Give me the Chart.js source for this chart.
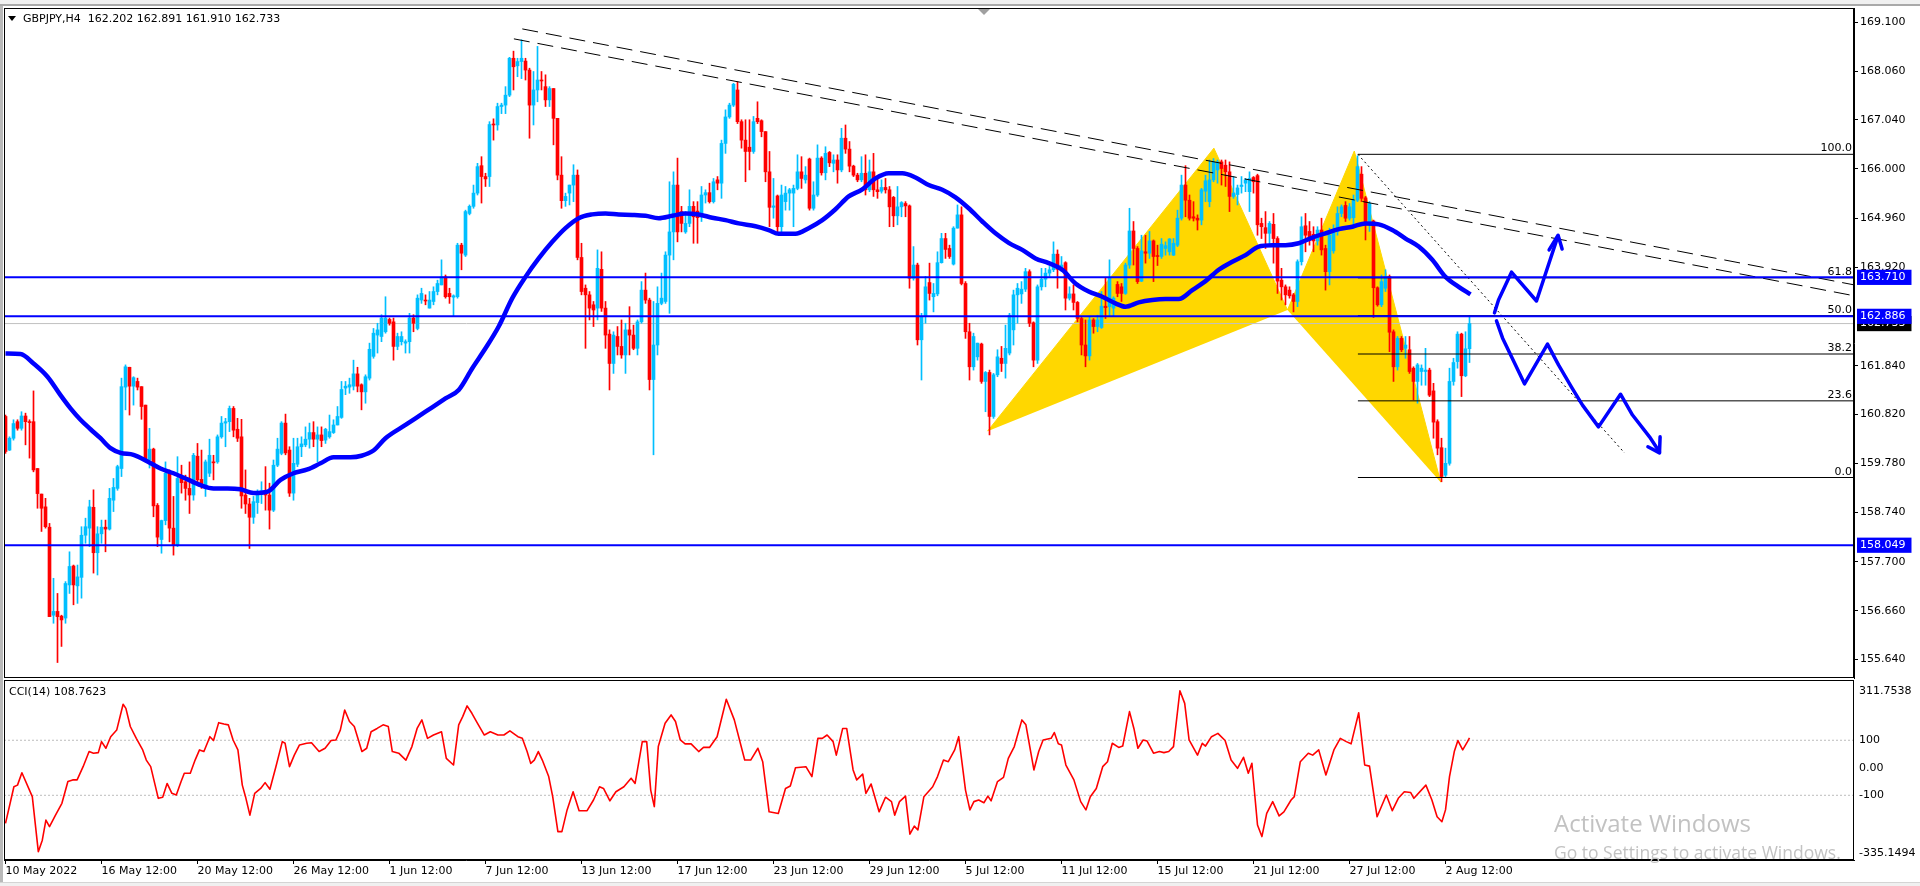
<!DOCTYPE html>
<html>
<head>
<meta charset="utf-8">
<title>GBPJPY,H4</title>
<script src="https://cdn.jsdelivr.net/npm/chart.js@4.4.1/dist/chart.umd.min.js"></script>
<style>
  html, body { margin: 0; padding: 0; background: #fff; }
  body { width: 1920px; height: 886px; position: relative; overflow: hidden; font-family: 'DejaVu Sans', sans-serif; }
  canvas { position: absolute; left: 0; }
  #priceChart { top: 0; }
  #cciChart { top: 678px; }
  #topbar { position: absolute; left: 0; top: 0; width: 1920px; height: 4px; background: #f0f0f0; border-bottom: 2px solid #a9a9a9; }
  #leftbar { position: absolute; left: 0; top: 6px; width: 3px; height: 876px; background: #b9b9b9; }
  #bottombar { position: absolute; left: 0; top: 882px; width: 1920px; height: 4px; background: #f0f0f0; border-top: 1px solid #d4d4d4; }
  #shift { position: absolute; left: 978px; top: 9px; width: 0; height: 0; border-left: 6px solid transparent; border-right: 6px solid transparent; border-top: 6px solid #a0a0a0; }
  #tri { position: absolute; left: 8px; top: 16px; width: 0; height: 0; border-left: 4px solid transparent; border-right: 4px solid transparent; border-top: 5px solid #000; }
  .label { position: absolute; font-size: 11px; line-height: 13px; color: #000; white-space: pre; }
  .wm { position: absolute; left: 1554px; font-family: 'Open Sans', sans-serif; color: #c2c2c2; white-space: pre; }
</style>
</head>
<body>
<div id="topbar"></div>
<canvas id="priceChart" width="1920" height="680"></canvas>
<canvas id="cciChart" width="1920" height="208"></canvas>
<div id="leftbar"></div>
<div id="bottombar"></div>
<div id="shift"></div>
<div id="tri"></div>
<div class="label" style="left:23px; top:12px;">GBPJPY,H4  162.202 162.891 161.910 162.733</div>
<div class="label" style="left:9px; top:685px;">CCI(14) 108.7623</div>
<div class="wm" style="top:806px; font-size:24px;">Activate Windows</div>
<div class="wm" style="top:840px; font-size:17.5px;">Go to Settings to activate Windows.</div>
<script>
// GBPJPY H4, 10 May 2022 12:00 -> 3 Aug 2022 12:00, one entry per bar (bar 0 = 10 May 12:00)
const xTickBars = [0, 24, 48, 72, 96, 120, 144, 168, 192, 216, 240, 264, 288, 312, 336, 360];
const xTickLabels = ['10 May 2022', '16 May 12:00', '20 May 12:00', '26 May 12:00', '1 Jun 12:00', '7 Jun 12:00',
  '13 Jun 12:00', '17 Jun 12:00', '23 Jun 12:00', '29 Jun 12:00', '5 Jul 12:00', '11 Jul 12:00',
  '15 Jul 12:00', '21 Jul 12:00', '27 Jul 12:00', '2 Aug 12:00'];

const priceTicks = [169.100, 168.060, 167.040, 166.000, 164.960, 163.920, 161.840, 160.820, 159.780, 158.740, 157.700, 156.660, 155.640];
const levelLines = [163.710, 162.886, 158.049];
const lastPrice = 162.733;

const opens = [
  160.77,160.06,160.31,160.66,160.52,160.78,160.66,160.66,159.67,159.13,
  158.86,158.43,156.57,156.65,156.55,156.51,157.21,157.61,157.19,157.37,
  158.26,158.41,158.85,157.89,158.29,158.43,158.39,159.00,159.25,159.67,
  161.39,161.81,161.41,161.51,161.40,161.01,159.85,160.08,158.89,158.17,
  158.57,159.57,158.41,158.05,159.50,159.39,159.25,159.11,159.93,159.44,
  159.25,159.57,159.81,159.81,160.34,160.63,160.66,160.94,160.50,160.34,
  159.11,158.92,158.64,158.95,159.15,159.20,159.11,158.79,159.74,159.99,
  160.63,160.06,159.15,159.76,160.13,160.17,160.29,160.43,160.29,160.38,
  160.27,160.34,160.43,160.59,160.75,161.37,161.39,161.41,161.67,161.44,
  161.29,161.58,162.04,162.49,162.46,162.56,162.82,162.77,162.25,162.35,
  162.32,162.35,162.85,162.63,163.23,163.23,163.06,163.20,163.41,163.55,
  163.72,163.37,163.29,163.30,164.39,164.18,165.06,165.21,165.49,166.07,
  165.84,165.84,166.94,166.93,167.32,167.35,167.56,168.34,168.18,168.27,
  168.28,168.09,167.35,167.67,167.88,167.74,167.46,167.70,167.07,165.87,
  165.33,165.49,165.66,165.87,164.13,163.48,163.34,163.13,163.06,163.88,
  163.06,162.51,161.89,162.46,162.25,162.07,162.60,162.49,162.21,162.77,
  163.44,163.23,161.55,162.28,163.16,163.20,164.18,164.67,165.66,165.10,
  164.67,164.85,165.21,165.11,164.99,165.45,165.50,165.31,165.77,165.70,
  166.54,167.10,167.35,167.67,167.00,166.61,166.46,166.37,167.07,167.02,
  166.79,165.94,165.19,165.43,164.78,165.31,165.49,165.49,165.59,165.94,
  165.77,166.21,165.17,165.45,166.23,165.92,166.35,166.12,166.19,165.98,
  166.65,166.42,166.06,165.87,165.77,165.91,165.56,165.94,165.56,165.53,
  165.61,165.56,165.40,165.01,165.20,165.27,165.22,163.69,163.97,162.39,
  162.88,163.60,163.30,163.36,164.02,164.53,164.32,163.99,164.75,165.03,
  163.58,162.56,161.82,162.03,162.30,161.51,161.70,160.77,161.65,162.00,
  161.89,162.11,162.60,163.34,163.36,163.46,163.83,162.75,161.96,163.51,
  163.67,163.80,163.87,164.20,163.87,164.02,163.27,163.36,163.18,162.84,
  162.28,162.05,162.81,162.67,162.65,163.10,163.09,163.06,163.56,163.51,
  163.37,163.97,164.69,164.32,163.63,164.25,164.22,164.48,164.17,164.15,
  164.32,164.25,164.18,164.39,164.96,165.66,165.34,164.99,164.96,164.92,
  165.53,165.31,165.77,165.98,166.15,166.08,165.94,165.42,165.46,165.63,
  165.70,165.52,165.82,165.86,164.85,164.76,164.64,164.83,164.53,163.65,
  163.51,163.44,163.34,163.20,164.04,164.80,164.68,164.62,164.48,164.71,
  164.32,163.83,164.27,164.68,165.06,165.23,164.96,164.97,165.34,165.89,
  165.39,164.85,164.90,163.49,163.13,163.48,163.73,162.56,161.82,162.42,
  162.21,162.18,161.79,161.51,161.72,161.72,161.75,161.31,160.66,160.11,
  159.53,159.78,161.51,161.93,162.51,161.63,162.202
];
const highs = [
  160.80,160.34,160.70,160.70,160.87,160.84,160.70,161.31,159.67,159.13,
  159.04,158.51,157.35,157.03,156.57,157.28,157.91,157.63,157.63,158.44,
  158.62,159.00,159.22,158.44,158.58,158.58,159.25,159.46,159.74,161.58,
  161.86,161.81,161.61,161.58,161.40,161.01,160.52,160.10,158.93,158.58,
  159.81,159.64,159.08,159.92,159.74,159.53,159.81,159.99,160.20,160.06,
  159.85,160.29,159.95,160.38,160.77,160.73,160.99,160.98,160.73,160.71,
  159.64,159.04,159.08,159.22,159.39,159.71,159.36,159.85,160.31,160.66,
  160.82,160.13,160.31,160.31,160.34,160.55,160.63,160.66,160.55,160.55,
  160.52,160.80,160.70,160.98,161.51,161.51,161.58,161.96,161.81,161.46,
  161.65,162.32,162.63,162.74,162.92,163.30,162.85,162.85,162.53,162.56,
  162.39,162.95,162.92,163.34,163.48,163.34,163.41,163.51,163.65,164.08,
  163.76,163.48,163.34,164.43,164.43,165.13,165.24,165.66,166.12,166.26,
  165.91,167.00,167.06,167.39,167.39,167.74,168.36,168.49,168.34,168.73,
  168.34,168.13,168.06,168.59,168.06,167.99,167.74,167.70,167.07,166.26,
  165.49,165.66,166.09,165.98,164.43,163.55,163.41,163.20,164.29,164.25,
  163.20,162.60,162.56,162.67,162.81,162.74,163.09,162.70,162.81,163.62,
  163.80,163.27,163.20,163.51,163.80,164.25,165.73,165.94,166.23,165.21,
  165.10,165.56,165.31,165.31,165.63,165.56,165.70,165.80,165.84,166.61,
  167.25,167.39,167.81,167.84,167.04,167.04,167.04,167.11,167.42,167.04,
  166.79,166.37,165.80,165.45,165.66,165.63,165.59,165.66,166.30,166.26,
  166.05,166.23,165.73,166.51,166.26,166.47,166.37,166.30,166.30,166.86,
  166.93,166.58,166.08,165.91,166.26,166.30,166.19,166.33,165.84,165.77,
  165.80,165.63,165.42,165.63,165.31,165.31,165.24,164.36,164.01,162.95,
  163.73,164.01,163.58,164.25,164.64,164.64,164.39,164.78,165.24,165.20,
  163.62,162.74,162.53,162.32,162.32,161.72,161.75,161.68,162.18,162.25,
  162.70,162.95,163.44,163.58,163.62,163.90,163.87,162.77,163.55,163.90,
  163.90,163.94,164.46,164.29,164.15,164.04,163.51,163.55,163.20,162.88,
  162.81,162.88,162.84,162.91,163.41,163.69,164.08,163.30,163.62,163.58,
  164.01,165.17,164.89,164.36,164.60,164.60,164.68,164.50,164.39,164.53,
  164.46,164.53,164.53,165.13,165.87,166.07,165.45,165.31,165.03,165.59,
  165.87,166.19,166.22,166.19,166.19,166.19,166.15,165.84,165.66,165.84,
  165.80,165.94,165.84,165.89,164.96,165.10,164.89,165.06,164.57,163.90,
  163.55,163.51,163.37,164.08,164.99,165.06,164.89,164.78,164.78,164.96,
  164.39,164.75,164.82,165.20,165.24,165.31,165.27,165.45,166.28,166.05,
  165.42,165.31,164.92,163.51,163.76,163.87,163.76,162.60,162.46,162.46,
  162.46,162.46,161.82,161.89,161.86,162.21,161.79,161.47,160.70,160.31,
  160.10,161.79,162.00,162.56,162.53,162.56,162.891
];
const lows = [
  159.99,160.05,160.27,160.48,160.48,160.17,159.89,159.60,158.83,158.34,
  158.41,156.54,156.40,155.57,155.91,156.40,157.03,156.79,156.82,156.93,
  158.09,158.02,157.46,157.42,158.09,157.91,158.37,158.76,159.21,159.50,
  160.91,160.80,161.01,161.33,160.71,159.81,159.68,158.65,158.02,157.88,
  158.48,158.12,157.84,158.02,159.15,159.00,158.72,159.00,159.32,159.25,
  159.08,159.50,159.43,159.78,160.31,160.13,160.45,160.34,160.24,158.83,
  158.72,157.98,158.51,158.72,158.93,158.79,158.39,158.76,159.71,159.96,
  159.96,159.08,159.00,159.71,159.92,160.13,160.10,160.13,159.81,160.13,
  160.20,160.31,160.41,160.59,160.73,161.23,161.26,161.33,161.29,160.91,
  161.05,161.54,162.00,162.11,162.35,162.53,162.70,161.96,162.18,162.28,
  162.11,162.11,162.56,162.60,163.16,163.13,163.06,163.13,163.34,163.55,
  163.27,163.16,162.88,163.27,163.87,164.15,165.03,165.17,165.45,165.28,
  165.63,165.63,166.61,166.82,167.17,167.17,167.53,167.67,167.95,167.91,
  167.88,166.65,166.93,167.42,167.67,167.32,167.32,166.51,165.77,165.17,
  165.21,165.24,165.31,164.08,163.34,162.21,162.81,162.67,162.81,162.99,
  162.21,161.33,161.68,162.07,162.00,161.68,162.07,162.18,162.07,162.74,
  163.16,161.33,159.96,162.07,163.13,163.16,162.95,164.08,164.46,164.67,
  164.64,164.78,164.43,164.43,164.89,165.28,165.28,165.28,165.56,165.38,
  166.33,167.07,167.32,166.96,166.44,165.73,165.98,166.33,166.96,166.68,
  165.73,164.78,164.96,164.65,164.64,165.13,165.13,164.78,165.56,165.59,
  165.70,165.13,165.13,165.42,165.87,165.77,166.05,165.94,165.70,165.94,
  166.33,165.94,165.84,165.73,165.73,165.45,165.52,165.42,165.38,165.49,
  165.49,164.78,164.78,164.82,164.99,164.99,163.48,163.65,162.28,161.54,
  162.74,163.23,162.98,163.32,164.01,164.11,164.11,163.97,164.75,163.55,
  162.42,161.54,161.75,161.96,161.47,160.87,160.38,160.73,161.61,161.72,
  161.58,162.07,162.28,162.74,163.16,163.41,162.67,161.82,161.89,163.44,
  163.51,163.73,163.83,163.48,163.83,163.02,163.23,163.02,162.77,162.07,
  161.82,161.96,162.53,162.56,162.63,162.84,162.88,162.88,163.30,163.20,
  163.35,163.90,163.97,163.58,163.62,164.01,164.11,163.62,163.96,164.11,
  164.18,164.18,164.17,164.36,164.92,164.99,164.92,164.90,164.71,164.82,
  165.31,165.20,165.73,165.70,165.66,165.63,165.10,165.38,165.24,165.49,
  165.52,165.10,165.49,164.60,164.53,164.32,164.39,164.01,163.37,163.23,
  163.13,163.27,162.98,163.09,163.97,164.25,164.39,164.25,164.39,164.18,
  163.44,163.55,164.22,164.60,164.99,164.89,164.92,164.75,165.31,165.31,
  164.50,164.68,162.86,163.10,163.09,163.41,162.14,161.51,161.75,162.14,
  162.00,161.68,161.12,161.05,161.43,161.43,161.19,160.31,159.96,159.39,
  159.50,159.74,161.43,161.79,161.19,161.61,161.910
];
const closes = [
  160.03,160.31,160.62,160.52,160.78,160.66,160.64,159.64,159.14,158.83,
  158.44,156.54,156.65,156.54,156.47,157.24,157.60,157.21,157.38,158.26,
  158.44,158.86,157.89,158.29,158.43,158.39,159.04,159.27,159.71,161.40,
  161.82,161.41,161.59,161.39,160.98,159.85,160.08,158.88,158.22,158.57,
  159.57,158.41,158.05,159.46,159.37,159.25,159.11,159.95,159.43,159.29,
  159.81,159.95,159.79,160.34,160.63,160.66,160.94,160.48,160.31,159.09,
  158.92,158.64,158.97,159.15,159.20,159.11,158.79,159.74,160.08,160.63,
  160.00,159.15,159.78,160.13,160.19,160.29,160.43,160.29,160.38,160.26,
  160.50,160.45,160.59,160.77,161.34,161.41,161.44,161.67,161.41,161.29,
  161.61,162.19,162.53,162.60,162.85,162.85,162.74,162.25,162.46,162.46,
  162.35,162.85,162.74,163.27,163.37,163.21,163.23,163.41,163.58,163.72,
  163.30,163.30,163.32,164.39,164.22,165.10,165.21,165.49,166.05,165.84,
  165.79,166.94,166.93,167.32,167.35,167.56,168.34,168.16,168.27,168.34,
  168.09,167.35,167.67,167.88,167.86,167.46,167.70,167.07,165.87,165.33,
  165.42,165.66,165.87,164.13,163.41,163.34,163.06,163.02,163.90,163.06,
  162.49,161.89,162.49,162.25,162.07,162.60,162.49,162.21,162.77,163.44,
  163.23,161.55,162.28,163.16,163.27,164.18,164.67,165.66,164.67,164.85,
  164.85,165.21,164.99,164.97,165.45,165.50,165.31,165.73,165.70,166.54,
  167.10,167.35,167.79,167.00,166.61,166.37,166.37,167.00,167.00,166.79,
  165.94,165.19,165.22,164.78,165.45,165.49,165.56,165.59,165.94,165.80,
  165.87,165.17,165.45,166.23,165.92,166.33,166.13,166.19,165.98,166.65,
  166.42,166.06,165.87,165.77,165.91,165.56,165.94,165.56,165.52,165.61,
  165.56,165.20,165.01,165.20,165.29,165.22,163.69,163.97,162.39,162.88,
  163.51,163.37,163.37,164.02,164.53,164.30,164.15,164.75,165.03,163.58,
  162.56,161.82,162.46,162.32,161.51,161.70,160.77,161.65,162.03,161.89,
  162.21,162.91,163.34,163.48,163.46,163.83,162.74,161.96,163.51,163.67,
  163.80,163.87,164.20,163.88,163.97,163.27,163.36,163.18,162.84,162.28,
  162.05,162.81,162.67,162.81,163.10,163.07,163.69,163.27,163.37,163.37,
  163.97,164.69,164.32,163.62,164.27,164.22,164.48,164.15,164.15,164.41,
  164.38,164.52,164.43,164.96,165.66,165.34,164.96,164.96,164.92,165.56,
  165.75,165.77,166.15,166.15,166.01,165.94,165.42,165.49,165.60,165.66,
  165.77,165.80,165.73,164.82,164.78,164.64,164.85,164.53,163.63,163.51,
  163.34,163.32,163.20,164.04,164.78,164.60,164.53,164.48,164.71,164.29,
  163.83,164.60,164.68,165.06,165.20,164.96,165.20,165.34,166.05,165.38,
  164.85,165.27,163.49,163.13,163.62,163.73,162.55,161.82,162.42,162.18,
  162.28,161.72,161.51,161.86,161.79,161.75,161.22,160.65,160.10,159.50,
  159.78,161.51,161.91,162.51,161.63,162.20,162.733
];

// moving average, read every few bars: [bar, price]
const maPoints = [
  [0,162.10],[3.75,162.09],[7,161.89],[10.5,161.61],[13.75,161.22],[16.25,160.94],[18.75,160.70],[21.25,160.50],
  [23.75,160.31],[26.25,160.10],[28.75,160.00],[32,159.96],[35.5,159.82],[38.75,159.67],[42,159.57],[45.5,159.44],
  [48.75,159.32],[52,159.25],[55.5,159.25],[58.75,159.23],[62,159.15],[65.5,159.18],[68.75,159.43],[72,159.57],
  [75.5,159.65],[78.75,159.78],[82,159.91],[86.25,159.91],[89,159.94],[92,160.05],[95,160.31],[100,160.59],
  [105,160.87],[110,161.15],[113.3,161.33],[116.7,161.79],[120,162.21],[123.3,162.67],[126.7,163.27],[130,163.72],
  [133.3,164.11],[136.7,164.46],[140,164.75],[143.3,164.96],[146.7,165.04],[150,165.06],[153.3,165.04],[156.7,165.03],
  [160,165.01],[163.3,164.96],[166.7,165.01],[170,165.06],[173.3,165.04],[176.7,164.97],[180,164.92],[183.3,164.85],
  [187.5,164.79],[190.8,164.71],[193.3,164.63],[197.5,164.63],[200.8,164.75],[204.2,164.92],[207.5,165.15],[210.8,165.42],
  [214.2,165.57],[217.5,165.80],[220.8,165.91],[224.2,165.91],[227.5,165.82],[230.8,165.66],[234.2,165.56],[237.5,165.40],
  [240.8,165.17],[244.2,164.89],[247.5,164.64],[250.8,164.44],[254.2,164.29],[257.5,164.11],[260.8,164.01],[264.2,163.87],
  [267.5,163.58],[270.8,163.41],[274.2,163.30],[277.5,163.16],[280,163.09],[283.3,163.18],[286.7,163.23],[290,163.25],
  [293.3,163.25],[296.7,163.44],[300,163.63],[303.3,163.87],[306.7,164.04],[310,164.18],[313.3,164.36],[316.7,164.39],
  [320,164.39],[323.3,164.43],[326.7,164.55],[330,164.64],[333.3,164.73],[336.7,164.78],[340,164.85],[343.3,164.83],
  [346.7,164.71],[350,164.53],[353.3,164.36],[356.7,164.08],[360,163.72],[363.3,163.51],[366.25,163.35]
];

// CCI(14) turning points: [bar, value]
const cciPoints = [
  [0,-202],[2.1,-69],[3,-63],[4.1,-18],[6.7,-105],[8.2,-305],[9.2,-263],[10.1,-190],[11,-214],[12.5,-172],
  [14.1,-129],[15.6,-50],[16.8,-44],[17.9,-44],[19.4,4],[20.9,59],[22,53],[23.2,55],[24,95],[25.1,71],
  [26.3,113],[27.8,137],[29.4,231],[30.1,216],[31.2,150],[32.7,107],[34.3,65],[35.2,28],[36.3,4],[38.2,-111],
  [39.3,-107],[40.4,-57],[41.6,-93],[42.7,-99],[43.9,-50],[44.7,-20],[46.2,-20],[47.4,28],[48.5,65],[49.6,59],
  [51.1,113],[52,99],[53.3,164],[54.6,159],[55.7,156],[56.9,101],[58.1,65],[59.2,-63],[60,-105],[61.1,-172],
  [62.3,-93],[63.8,-75],[64.9,-54],[66.1,-78],[67.6,4],[69.2,95],[69.9,89],[71,4],[72.2,46],[73.5,83],
  [75.3,89],[76.5,91],[78.4,59],[79.9,71],[81.4,99],[82.6,101],[83.7,137],[84.8,210],[86,168],[87.2,150],
  [89.1,59],[90.3,71],[91.4,131],[92.9,143],[94.4,156],[95.7,150],[96.7,59],[98.3,53],[100.1,28],[101.6,77],
  [102.9,143],[104.1,174],[105.5,107],[107,119],[109,131],[110.2,34],[112,10],[113.3,156],[114.3,186],[115.4,225],
  [116.6,198],[117.9,164],[119.7,119],[121.2,131],[123.1,119],[124.6,119],[126.1,134],[128.1,113],[129.2,107],[130.4,59],
  [131.3,16],[132.2,28],[133.2,59],[134.2,28],[135.8,-32],[136.8,-105],[138.1,-232],[139.1,-232],[140.4,-153],[141.9,-87],
  [143.4,-156],[145.4,-156],[147,-117],[148.5,-69],[149.5,-75],[151.1,-120],[152.6,-87],[154.6,-69],[156.4,-38],[157.4,-57],
  [159.2,95],[160.3,95],[161.3,-81],[162.2,-141],[163.2,77],[164.9,162],[166.4,192],[167.5,168],[168.7,101],[169.9,87],
  [171.4,87],[173.3,59],[174.5,74],[176,74],[177.9,113],[180.2,249],[182.2,174],[184.8,28],[186.3,28],[188.1,71],
  [189.3,22],[190.9,-160],[193.2,-166],[195,-75],[196.2,-66],[197.5,0],[200.1,4],[201.6,-32],[203.1,107],[204.2,107],
  [205.4,119],[206.9,95],[207.7,46],[209.3,143],[210.3,143],[211.9,-8],[212.8,-44],[214.3,-23],[215.1,-93],[216.4,-59],
  [218.4,-160],[220,-107],[221.5,-123],[222.3,-172],[223.5,-123],[225,-103],[226.1,-241],[227.2,-212],[228.1,-226],[229.6,-105],
  [231.8,-69],[233,-32],[234.5,28],[235.7,22],[237.3,65],[238.3,113],[240,-81],[241.1,-153],[242.1,-123],[243.3,-117],
  [244.6,-127],[245.6,-103],[246.4,-120],[248,-50],[249.5,-35],[250.7,34],[252.2,77],[254.1,174],[255.1,156],[257.1,-8],
  [258.3,59],[259.4,101],[261.4,107],[262.2,128],[263.2,87],[264,83],[265.1,10],[267.1,-44],[268.8,-123],[270.1,-153],
  [271.2,-105],[272.7,-75],[274.3,4],[275.5,22],[276.7,89],[278.3,74],[279.3,79],[281,204],[282.1,143],[283.1,71],
  [284.4,101],[285.4,97],[287,53],[288.5,59],[289.6,55],[290.8,59],[292,77],[293.6,280],[294.8,234],[295.9,101],
  [298,46],[299.2,89],[300,79],[301.5,113],[303.1,125],[304.9,99],[306.4,28],[308,-2],[309.5,38],[310.7,-20],
  [311.6,16],[313,-208],[314.1,-250],[315.3,-166],[316.8,-123],[318.4,-175],[319.6,-160],[321.4,-117],[322.2,-105],[323.7,22],
  [325.7,53],[326.8,46],[328.3,65],[330.1,-26],[332.1,65],[333.7,107],[335.2,95],[336.4,87],[338.3,200],[339.8,10],
  [341,6],[342.9,-178],[345.2,-99],[346.7,-156],[348.2,-111],[349.7,-87],[351.3,-90],[352.1,-111],[355.1,-63],[356.6,-117],
  [357.9,-178],[359.1,-196],[360,-153],[361,-32],[362.2,59],[363.1,99],[364.3,65],[365.5,95],[366,108.76]
];
const cciTickValues = [311.7538, 100, 0, -100, -335.1494];
const cciTickLabels = ['311.7538', '100', '0.00', '-100', '-335.1494'];
const cciLevels = [100, -100];

// drawn objects, in [bar, price]
const trendUpper = [[129.2, 168.96], [462.2, 163.55]];
const trendLower = [[127.1, 168.75], [462.2, 163.32]];
const patternXAB = [[245.5, 160.46], [302.1, 166.44], [320.5, 163.02]];
const patternBCD = [[320.5, 163.02], [337.2, 166.38], [358.8, 159.38]];
const fibStartBar = 338.1;
const fibPrices = [159.48, 161.10, 162.09, 162.90, 163.70, 166.31];
const fibLabels = ['0.0', '23.6', '38.2', '50.0', '61.8', '100.0'];
const fibDiagonal = [[338.1, 166.31], [404.75, 160.0]];
const arrowUp = [[372.25, 162.96], [373.25, 163.23], [376.5, 163.82], [382.75, 163.21], [388.1, 164.58]];
const arrowUpHead = [[385.9, 164.29], [388.15, 164.60], [389.15, 164.31]];
const arrowDown = [[372.75, 162.79], [374.25, 162.43], [377.5, 161.86], [379.75, 161.46], [385.5, 162.30], [388.25, 161.86],
  [391.5, 161.39], [394.25, 161.01], [398.25, 160.55], [403.75, 161.24], [406.75, 160.80], [411, 160.34], [413.5, 160.02]];
const arrowDownHead = [[410.6, 160.13], [413.5, 160.00], [413.65, 160.34]];

// ---- styling ----
const BULL = '#00BFFF';
const BEAR = '#FF0000';
const GOLD = '#FFD700';
const BLUE = '#0000FF';
const FONT = "'DejaVu Sans', sans-serif";
const X_MIN = -0.375;
const X_MAX = 462.125;

Chart.defaults.font.family = FONT;
Chart.defaults.font.size = 11;
Chart.defaults.color = '#000';

const pts = (arr) => arr.map(([x, y]) => ({ x, y }));
const hline = (y, x0 = X_MIN, x1 = X_MAX) => [{ x: x0, y }, { x: x1, y }];
const line = (data, color, width, extra = {}) => Object.assign({
  type: 'line', data, borderColor: color, borderWidth: width, pointRadius: 0, fill: false, tension: 0
}, extra);

const candleColors = closes.map((c, i) => (c >= opens[i] ? BULL : BEAR));

const panelFrame = {
  id: 'panelFrame',
  afterDraw(chart) {
    const { ctx, chartArea: a } = chart;
    ctx.save();
    ctx.strokeStyle = '#000';
    ctx.lineWidth = 1;
    ctx.strokeRect(a.left + 0.5, a.top + 0.5, a.width - 1, a.height - 1);
    ctx.restore();
  }
};

const fibText = {
  id: 'fibText',
  afterDatasetsDraw(chart) {
    const { ctx, chartArea, scales: { y } } = chart;
    ctx.save();
    ctx.font = '11px ' + FONT;
    ctx.fillStyle = '#000';
    ctx.textAlign = 'right';
    ctx.textBaseline = 'alphabetic';
    fibPrices.forEach((p, i) => ctx.fillText(fibLabels[i], chartArea.right - 2, y.getPixelForValue(p) - 3));
    ctx.restore();
  }
};

// blue boxes for the horizontal lines, black box for the last price
const boxColor = (v) => (levelLines.includes(v) ? BLUE : v === lastPrice ? '#000' : null);

new Chart(document.getElementById('priceChart'), {
  type: 'bar',
  data: {
    datasets: [
      line(pts(patternXAB), GOLD, 1, { fill: 'shape', backgroundColor: GOLD, order: 30 }),
      line(pts(patternBCD), GOLD, 1, { fill: 'shape', backgroundColor: GOLD, order: 30 }),
      line(hline(lastPrice), '#C0C0C0', 1, { order: 25 }),
      {
        type: 'bar', label: 'wicks', order: 20, grouped: false, barThickness: 1, minBarLength: 1,
        data: highs.map((h, i) => ({ x: i, y: [lows[i], h] })),
        backgroundColor: candleColors
      },
      {
        type: 'bar', label: 'bodies', order: 19, grouped: false, barThickness: 3, minBarLength: 1,
        data: opens.map((o, i) => ({ x: i, y: [o, closes[i]] })),
        backgroundColor: candleColors
      },
      line(pts(maPoints), BLUE, 4.5, { order: 10, tension: 0.4, cubicInterpolationMode: 'monotone' }),
      ...fibPrices.map((p) => line(hline(p, fibStartBar), '#000', 1, { order: 9 })),
      line(pts(fibDiagonal), '#000', 1, { order: 9, borderDash: [2, 3] }),
      line(pts(trendUpper), '#000', 1, { order: 9, borderDash: [16, 8] }),
      line(pts(trendLower), '#000', 1, { order: 9, borderDash: [16, 8] }),
      ...levelLines.map((p) => line(hline(p), BLUE, 2, { order: 8 })),
      line(pts(arrowUp), BLUE, 3.5, { order: 1, borderJoinStyle: 'round', borderCapStyle: 'round' }),
      line(pts(arrowUpHead), BLUE, 3.5, { order: 1, borderJoinStyle: 'round', borderCapStyle: 'round' }),
      line(pts(arrowDown), BLUE, 3.5, { order: 1, borderJoinStyle: 'round', borderCapStyle: 'round' }),
      line(pts(arrowDownHead), BLUE, 3.5, { order: 1, borderJoinStyle: 'round', borderCapStyle: 'round' })
    ]
  },
  options: {
    responsive: false,
    animation: false,
    devicePixelRatio: 1,
    events: [],
    layout: { padding: { left: 4, top: 8, right: 0, bottom: 2 } },
    plugins: { legend: { display: false }, tooltip: { enabled: false } },
    scales: {
      x: { type: 'linear', display: false, min: X_MIN, max: X_MAX, offset: false },
      y: {
        type: 'linear', position: 'right', min: 155.243, max: 169.402,
        afterBuildTicks: (s) => {
          s.ticks = [...priceTicks, lastPrice, ...levelLines].map((v) => ({ value: v }));
        },
        afterFit: (s) => { s.width = 66; s.paddingTop = 0; s.paddingBottom = 0; },
        ticks: {
          autoSkip: false,
          padding: 2,
          callback: (v) => v.toFixed(3),
          color: (ctx) => (boxColor(ctx.tick.value) ? '#fff' : '#000'),
          showLabelBackdrop: (ctx) => !!boxColor(ctx.tick.value),
          backdropColor: (ctx) => boxColor(ctx.tick.value) || 'rgba(0,0,0,0)',
          backdropPadding: { left: 3, right: 6, top: 1, bottom: 1 }
        },
        grid: {
          drawOnChartArea: false,
          tickLength: 4,
          color: (ctx) => (ctx.tick && boxColor(ctx.tick.value) ? 'rgba(0,0,0,0)' : '#000')
        },
        border: { display: true, color: '#000' }
      }
    }
  },
  plugins: [fibText, panelFrame]
});

const cciAxisText = {
  id: 'cciAxisText',
  afterDraw(chart) {
    const { ctx, chartArea, scales: { y } } = chart;
    const nudge = [9, 0, 0, 0, -7];
    ctx.save();
    ctx.font = '11px ' + FONT;
    ctx.fillStyle = '#000';
    ctx.textAlign = 'left';
    ctx.textBaseline = 'middle';
    cciTickValues.forEach((v, i) => {
      ctx.fillText(cciTickLabels[i], chartArea.right + 5, y.getPixelForValue(v) + nudge[i]);
    });
    ctx.restore();
  }
};

new Chart(document.getElementById('cciChart'), {
  type: 'line',
  data: {
    datasets: [
      ...cciLevels.map((v) => line(hline(v), '#BDBDBD', 1, { borderDash: [2, 2], order: 5 })),
      line(pts(cciPoints), BEAR, 1.6, { order: 1, borderJoinStyle: 'round' })
    ]
  },
  options: {
    responsive: false,
    animation: false,
    devicePixelRatio: 1,
    events: [],
    layout: { padding: { left: 4, top: 2, right: 0, bottom: 0 } },
    plugins: { legend: { display: false }, tooltip: { enabled: false } },
    scales: {
      x: {
        type: 'linear', min: X_MIN, max: X_MAX, offset: false,
        afterBuildTicks: (s) => { s.ticks = xTickBars.map((v) => ({ value: v })); },
        afterFit: (s) => { s.height = 26; s.paddingLeft = 0; s.paddingRight = 0; },
        ticks: {
          autoSkip: false, maxRotation: 0, minRotation: 0, align: 'start', padding: 1,
          callback: (v, i) => xTickLabels[i]
        },
        grid: { drawOnChartArea: false, tickLength: 4, color: '#000' },
        border: { display: true, color: '#000' }
      },
      y: {
        type: 'linear', position: 'right', min: -335.1494, max: 319,
        afterFit: (s) => { s.width = 66; s.paddingTop = 0; s.paddingBottom = 0; },
        ticks: { display: false },
        grid: { display: false },
        border: { display: false }
      }
    }
  },
  plugins: [cciAxisText, panelFrame]
});
</script>
</body>
</html>
